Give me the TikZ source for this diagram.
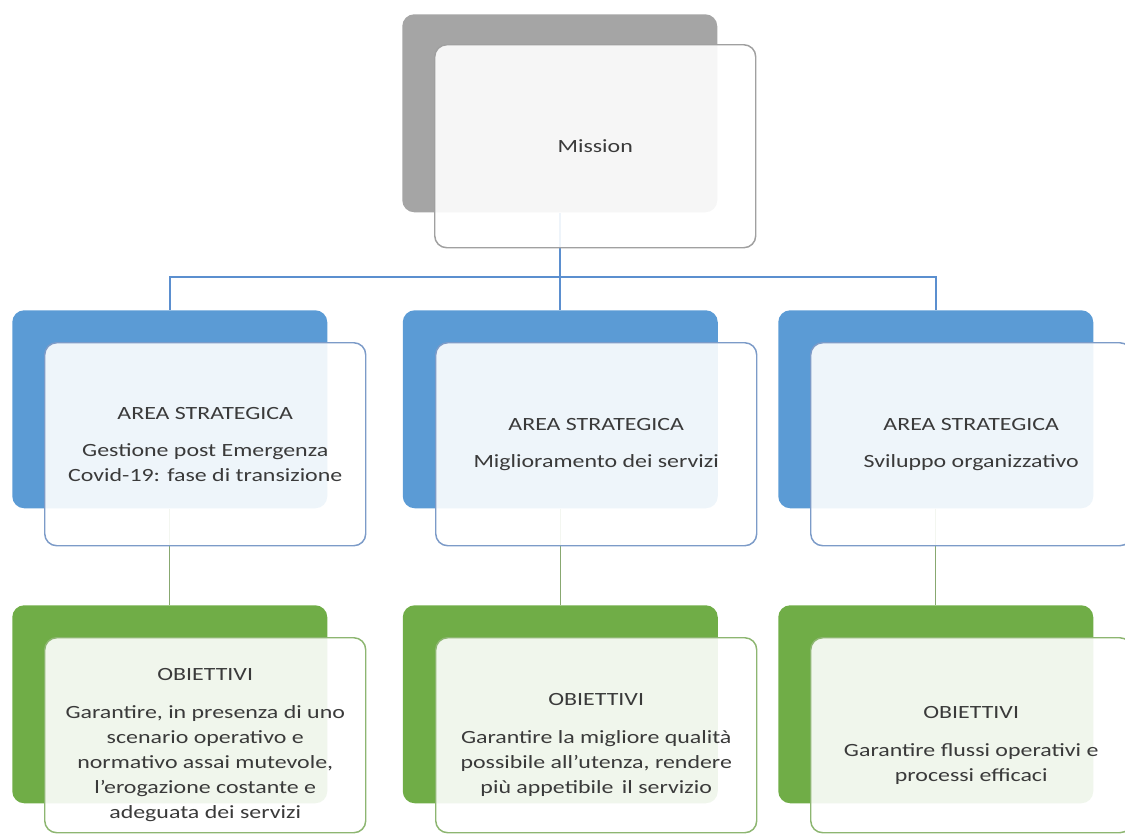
\documentclass[tikz,border=0pt]{standalone}
\usepackage{fontspec}
\setmainfont{Carlito}[FakeStretch=1.28]
\usetikzlibrary{backgrounds}
\definecolor{bkgray}{HTML}{A5A5A5}
\definecolor{bkblue}{HTML}{5B9BD5}
\definecolor{bkgreen}{HTML}{70AD47}
\definecolor{frgray}{HTML}{A0A0A0}
\definecolor{frblue}{HTML}{7C9BC8}
\definecolor{frgreen}{HTML}{8DB671}
\definecolor{txt}{HTML}{3A3A3A}
\definecolor{lnblue}{HTML}{5B8FCF}
\definecolor{lngreen}{HTML}{88A870}
\newcommand{\downshift}{\rule{0pt}{24pt}}
\tikzset{
  backbox/.style={rectangle, rounded corners=9pt, anchor=north west, inner sep=0pt,
    minimum width=236.25pt, minimum height=148.5pt},
  frontbox/.style={rectangle, rounded corners=9pt, anchor=north west, inner sep=0pt,
    minimum width=240.75pt, minimum height=152.25pt, fill=white, fill opacity=0.9,
    text opacity=1, line width=1.1pt, text=txt, align=center,
    font=\fontsize{14}{18.75}\selectfont},
  grayback/.style={backbox, fill=bkgray},
  blueback/.style={backbox, fill=bkblue},
  greenback/.style={backbox, fill=bkgreen},
  grayfront/.style={frontbox, draw=frgray},
  bluefront/.style={frontbox, draw=frblue},
  greenfront/.style={frontbox, draw=frgreen, minimum height=146.25pt},
  blueconn/.style={draw=lnblue, line width=1.3pt},
  greenconn/.style={draw=lngreen, line width=1pt}
}
\begin{document}
\begin{tikzpicture}[x=0.75pt,y=-0.75pt]
\useasboundingbox (0,0) rectangle (1125,835);
% Mission
\node[grayback] (mb) at (402,14) {};
\node[grayfront] (mf) at (434,44) {Mission};
% Aree strategiche
\node[blueback] (a1b) at (12,310) {};
\node[bluefront] (a1f) at (44,342) {AREA STRATEGICA\\[9pt]Gestione post Emergenza\\Covid-19: fase di transizione};
\node[blueback] (a2b) at (402.5,310) {};
\node[bluefront] (a2f) at (435,342) {AREA STRATEGICA\\[9pt]Miglioramento dei servizi};
\node[blueback] (a3b) at (778,310) {};
\node[bluefront] (a3f) at (810,342) {AREA STRATEGICA\\[9pt]Sviluppo organizzativo};
% Obiettivi
\node[greenback] (o1b) at (12,605) {};
\node[greenfront] (o1f) at (44,637) {\downshift OBIETTIVI\\[10pt]Garantire, in presenza di uno\\scenario operativo e\\normativo assai mutevole,\\l’erogazione costante e\\adeguata dei servizi};
\node[greenback] (o2b) at (402.5,605) {};
\node[greenfront] (o2f) at (435,637) {\downshift OBIETTIVI\\[10pt]Garantire la migliore qualità\\possibile all’utenza, rendere\\più appetibile\, il servizio};
\node[greenback] (o3b) at (778,605) {};
\node[greenfront] (o3f) at (810,637) {\downshift OBIETTIVI\\[10pt]Garantire flussi operativi e\\processi efficaci};
% connectors
\begin{scope}[on background layer]
\coordinate (hy) at (0,277);
\draw[blueconn] (mb.south) -- (mb.south |- hy) -| (a1b.north);
\draw[blueconn] (mb.south |- hy) -| (a3b.north);
\draw[blueconn] (mb.south |- hy) -| (a2b.north);
\draw[greenconn] (a1b.south) -- (o1b.north);
\draw[greenconn] (a2b.south) -- (o2b.north);
\draw[greenconn] (a3b.south) -- (o3b.north);
\end{scope}
\end{tikzpicture}
\end{document}
